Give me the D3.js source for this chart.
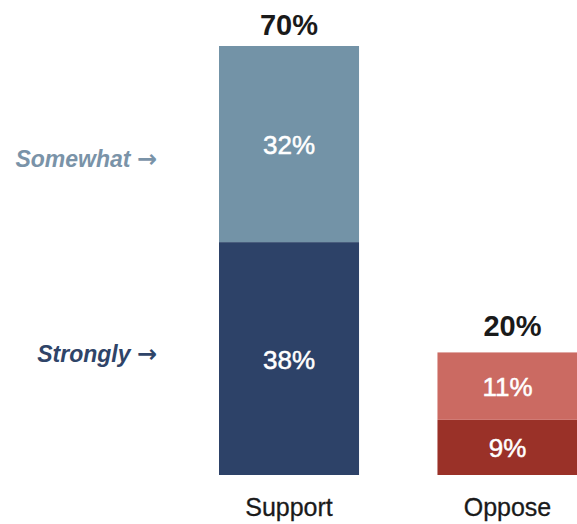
<!DOCTYPE html>
<html><head><meta charset="utf-8">
<script src="https://cdn.jsdelivr.net/npm/d3@7"></script>
<style>body{margin:0;background:#fff;}svg{display:block;font-family:"Liberation Sans",Arial,sans-serif;}</style>
</head><body>
<svg id="c" width="577" height="524"></svg>
<script>
const categories = ["Support", "Oppose"];
const strongly = [38, 9];
const somewhat = [32, 11];
const totals = [70, 20];
const sideLabels = ["Somewhat", "Strongly"];
const strongColors = ["#2d4268", "#9a3128"];
const someColors = ["#7393a7", "#cb6a62"];
const sideColors = ["#7a93a8", "#2f4468"];

const svg = d3.select("#c");
const x = d3.scaleBand().domain(categories).range([219, 577.5]).paddingInner(0.359).paddingOuter(0);
const y = d3.scaleLinear().domain([0, 70]).range([475, 46]);

const g = svg.append("g");
categories.forEach((c, i) => {
  const x0 = x(c), w = x.bandwidth();
  g.append("rect").attr("x", x0).attr("width", w)
    .attr("y", y(strongly[i])).attr("height", y(0) - y(strongly[i])).attr("fill", strongColors[i]);
  g.append("rect").attr("x", x0).attr("width", w)
    .attr("y", y(strongly[i] + somewhat[i])).attr("height", y(strongly[i]) - y(strongly[i] + somewhat[i])).attr("fill", someColors[i]);
  g.append("text").attr("x", x0 + w / 2).attr("y", (y(0) + y(strongly[i])) / 2 + 10)
    .attr("text-anchor", "middle").attr("fill", "#fff").attr("stroke", "#fff").attr("stroke-width", 0.5)
    .attr("font-size", 26).text(strongly[i] + "%");
  g.append("text").attr("x", x0 + w / 2).attr("y", (y(strongly[i]) + y(strongly[i] + somewhat[i])) / 2 + 10)
    .attr("text-anchor", "middle").attr("fill", "#fff").attr("stroke", "#fff").attr("stroke-width", 0.5)
    .attr("font-size", 26).text(somewhat[i] + "%");
  g.append("text").attr("x", x0 + w / 2 + (i === 1 ? 5 : 0)).attr("y", y(totals[i]) - (i === 1 ? 16 : 11))
    .attr("text-anchor", "middle").attr("fill", "#1a1a1a").attr("font-size", 29).attr("font-weight", "bold").text(totals[i] + "%");
  g.append("text").attr("x", x0 + w / 2).attr("y", 516)
    .attr("text-anchor", "middle").attr("fill", "#1a1a1a").attr("stroke", "#1a1a1a").attr("stroke-width", 0.3)
    .attr("font-size", 25).text(c);
});

const sideY = [167, 362];
sideLabels.forEach((s, i) => {
  const t = svg.append("text").attr("x", 157).attr("y", sideY[i])
    .attr("text-anchor", "end").attr("font-size", 23).attr("font-weight", "bold")
    .attr("fill", sideColors[i]);
  t.append("tspan").attr("font-style", "italic").text(s + " ");
  t.append("tspan").attr("font-family", "DejaVu Sans").attr("font-size", 24).text("\u2192");
});
</script>
</body></html>
